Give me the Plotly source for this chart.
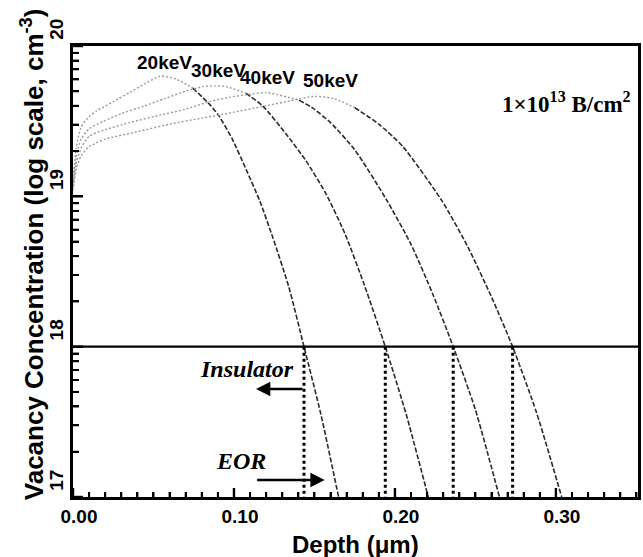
import numpy as np
import plotly.graph_objects as go

# ---------------- data (depth in um, concentration as log10(cm^-3)) ----------------
energies = ["20keV", "30keV", "40keV", "50keV"]

depth_20 = [0.000, 0.002, 0.005, 0.010, 0.015, 0.025, 0.035, 0.045, 0.054, 0.064, 0.0745,
            0.085, 0.091, 0.099, 0.1075, 0.116, 0.124, 0.134, 0.1435, 0.154, 0.165]
logc_20 = [19.10, 19.32, 19.46, 19.53, 19.57, 19.63, 19.69, 19.75, 19.80, 19.78, 19.72,
           19.61, 19.53, 19.38, 19.18, 18.97, 18.73, 18.40, 18.00, 17.55, 17.00]

depth_30 = [0.000, 0.002, 0.005, 0.010, 0.019, 0.030, 0.044, 0.057, 0.070, 0.081, 0.088,
            0.095, 0.1075, 0.118, 0.132, 0.1445, 0.157, 0.169, 0.181, 0.194, 0.207, 0.2207]
logc_30 = [19.08, 19.26, 19.38, 19.45, 19.50, 19.55, 19.60, 19.65, 19.70, 19.73, 19.735,
           19.73, 19.685, 19.60, 19.42, 19.24, 19.02, 18.75, 18.41, 18.00, 17.55, 17.00]

depth_40 = [0.000, 0.002, 0.005, 0.010, 0.019, 0.035, 0.054, 0.070, 0.085, 0.0975, 0.1075,
            0.120, 0.1404, 0.1486, 0.160, 0.175, 0.1946, 0.210, 0.2235, 0.2362, 0.250, 0.2649]
logc_40 = [19.06, 19.22, 19.32, 19.40, 19.44, 19.49, 19.54, 19.58, 19.63, 19.66, 19.675,
           19.69, 19.64, 19.59, 19.49, 19.31, 18.98, 18.68, 18.35, 18.00, 17.58, 17.00]

depth_50 = [0.000, 0.002, 0.005, 0.010, 0.020, 0.040, 0.060, 0.080, 0.100, 0.117, 0.135,
            0.150, 0.162, 0.175, 0.190, 0.205, 0.2289, 0.245, 0.260, 0.2731, 0.288, 0.3036]
logc_50 = [19.04, 19.18, 19.27, 19.33, 19.38, 19.43, 19.48, 19.52, 19.56, 19.596, 19.635,
           19.665, 19.65, 19.59, 19.48, 19.33, 18.975, 18.67, 18.33, 18.00, 17.56, 17.00]

depths = [depth_20, depth_30, depth_40, depth_50]
logcs = [logc_20, logc_30, logc_40, logc_50]

ref_level = 18          # exponent of the horizontal reference line (1e18 cm^-3)
x_tickvals = [0.0, 0.1, 0.2, 0.3]
x_ticktext = ["0.00", "0.10", "0.20", "0.30"]
x_minor_step = 0.01
y_exponents = [17, 18, 19, 20]
y_ticktext = ["17", "18", "19", "20"]
dose_text = "1×10<sup>13</sup> B/cm<sup>2</sup>"

# ---------------- layout geometry ----------------
W, H = 643, 557
L, R, T, B = 73, 2, 46, 60
PW, PH = W - L - R, H - T - B
XMAX = 0.351
XR = [0, XMAX]
YR = [y_exponents[0], y_exponents[-1]]


def pxx(p):
    return (p - L) / PW


def pxy(p):
    return (H - B - p) / PH


SANS = "Liberation Sans, Arial, sans-serif"
SERIF = "Liberation Serif, Times New Roman, serif"

fig = go.Figure()

# curves: light dotted before the fall, dark dashed on the falling edge
for name, d, lc in zip(energies, depths, logcs):
    d = np.array(d)
    lc = np.array(lc)
    ip = int(np.argmax(lc))
    k = ip + int(np.argmax(lc[ip:] <= lc[ip] - 0.05))
    fig.add_trace(go.Scatter(x=d[:k + 1], y=lc[:k + 1], mode="lines",
                             line=dict(color="#9a9a9a", width=1.4, dash="2px,2px",
                                       shape="spline", smoothing=0.6),
                             showlegend=False, hoverinfo="skip"))
    fig.add_trace(go.Scatter(x=d[k:], y=lc[k:], mode="lines",
                             line=dict(color="#2a2a2a", width=1.6, dash="5px,2px",
                                       shape="spline", smoothing=0.6),
                             showlegend=False, name=name))

# horizontal reference line at 1e18
fig.add_trace(go.Scatter(x=XR, y=[ref_level] * 2, mode="lines",
                         line=dict(color="black", width=2.2), showlegend=False,
                         hoverinfo="skip"))

# dotted verticals from the crossing with 1e18 down to the bottom (1e17)
for d, lc in zip(depths, logcs):
    d = np.array(d)
    lc = np.array(lc)
    ip = int(np.argmax(lc))
    xc = float(np.interp(ref_level, lc[ip:][::-1], d[ip:][::-1]))
    fig.add_trace(go.Scatter(x=[xc, xc], y=[ref_level, y_exponents[0]],
                             mode="lines", line=dict(color="black", width=3, dash="dot"),
                             showlegend=False, hoverinfo="skip"))

# ---- minor tick positions: every 0.01 um, log-decade subdivisions (2..9) on y ----
n_minor = int(round(XMAX / x_minor_step))
minor_x = [round(i * x_minor_step, 2) for i in range(1, n_minor + 1)
           if round(i * x_minor_step, 2) not in x_tickvals]
minor_y = [e + float(np.log10(k)) for e in y_exponents[:-1] for k in range(2, 10)]

# inward tick marks also as pixel-sized shapes anchored at the tick values
shapes = []
for vals, length, width in [(x_tickvals, 9, 2.4), (minor_x, 5, 2.0)]:
    for v in vals:
        shapes.append(dict(type="line", xref="x", yref="y", ysizemode="pixel",
                           yanchor=YR[0], x0=v, x1=v, y0=0, y1=length,
                           line=dict(color="black", width=width), layer="above"))
for vals, length, width in [(y_exponents, 10, 2.4), (minor_y, 6, 2.0)]:
    for v in vals:
        shapes.append(dict(type="line", xref="x", yref="y", xsizemode="pixel",
                           xanchor=XR[0], y0=v, y1=v, x0=0, x1=length,
                           line=dict(color="black", width=width), layer="above"))

annotations = []
# energy labels
label_px = [(165, 62), (219, 70), (269, 77), (332, 80)]
for name, (lx, ly) in zip(energies, label_px):
    annotations.append(dict(text=name, x=pxx(lx), y=pxy(ly), xref="paper", yref="paper",
                            showarrow=False, xanchor="center", yanchor="middle",
                            font=dict(family=SANS, size=19, color="black", weight=700)))

annotations.append(dict(text=dose_text, x=pxx(636), y=pxy(102), xref="paper", yref="paper",
                        showarrow=False, xanchor="right", yanchor="middle",
                        font=dict(family=SERIF, size=23, color="black", weight=700)))

annotations.append(dict(text="Insulator", x=pxx(248), y=pxy(369), xref="paper", yref="paper",
                        showarrow=False, xanchor="center", yanchor="middle",
                        font=dict(family=SERIF, size=24, color="black", weight=700,
                                  style="italic")))
annotations.append(dict(text="EOR", x=pxx(242), y=pxy(461), xref="paper", yref="paper",
                        showarrow=False, xanchor="center", yanchor="middle",
                        font=dict(family=SERIF, size=24, color="black", weight=700,
                                  style="italic")))
# arrows
annotations.append(dict(text="", x=pxx(257), y=pxy(389), xref="paper", yref="paper",
                        showarrow=True, ax=48, ay=0, arrowhead=2, arrowsize=1.1,
                        arrowwidth=2.6, arrowcolor="black"))
annotations.append(dict(text="", x=pxx(326), y=pxy(480), xref="paper", yref="paper",
                        showarrow=True, ax=-69, ay=0, arrowhead=2, arrowsize=1.1,
                        arrowwidth=2.6, arrowcolor="black"))

# axis titles
annotations.append(dict(text="Vacancy Concentration (log scale, cm<sup>-3</sup>)",
                        x=pxx(32), y=pxy(254), xref="paper", yref="paper", showarrow=False,
                        textangle=-90, xanchor="center", yanchor="middle",
                        font=dict(family=SANS, size=26, color="black", weight=700)))
annotations.append(dict(text="Depth (μm)", x=pxx(357), y=pxy(544), xref="paper",
                        yref="paper", showarrow=False, xanchor="center", yanchor="middle",
                        font=dict(family=SANS, size=24, color="black", weight=700)))

tick_font = dict(family=SANS, size=19, color="black", weight=700)
no_grid = dict(showgrid=False, zeroline=False)

fig.update_layout(
    width=W, height=H,
    margin=dict(l=L, r=R, t=T, b=B),
    paper_bgcolor="white", plot_bgcolor="white",
    showlegend=False,
    annotations=annotations,
    shapes=shapes,
    xaxis=dict(range=XR, **no_grid, showline=True, linecolor="black", linewidth=2.6,
               mirror=True, ticks="inside", ticklen=9, tickwidth=2.4, tickcolor="black",
               tickmode="array", tickvals=x_tickvals, ticktext=x_ticktext,
               tickfont=tick_font, ticklabelshift=6,
               minor=dict(ticks="inside", ticklen=5, tickwidth=2, tickcolor="black",
                          tickmode="array", tickvals=minor_x, showgrid=False)),
    yaxis=dict(range=YR, **no_grid, showline=True, linecolor="black", linewidth=2.6,
               mirror=True, ticks="inside", ticklen=10, tickwidth=2.4, tickcolor="black",
               tickmode="array", tickvals=y_exponents, ticktext=y_ticktext,
               tickangle=-90, tickfont=tick_font, ticklabelshift=-14,
               minor=dict(ticks="inside", ticklen=6, tickwidth=2, tickcolor="black",
                          tickmode="array", tickvals=minor_y, showgrid=False)),
)

fig.write_html("out.html")
